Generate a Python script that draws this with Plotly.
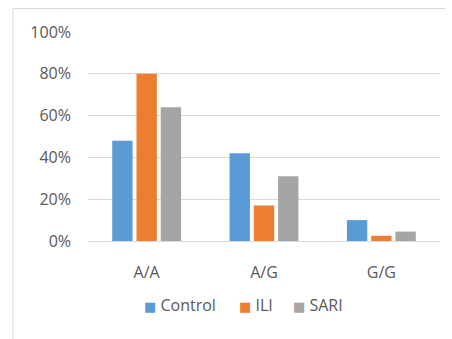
import plotly.graph_objects as go

categories = ["A/A", "A/G", "G/G"]
series_names = ["Control", "ILI", "SARI"]
control = [0.48, 0.42, 0.10]
ili = [0.80, 0.17, 0.025]
sari = [0.64, 0.31, 0.045]
colors = ["#5B9BD5", "#ED7D31", "#A5A5A5"]
y_ticks = [0, 0.2, 0.4, 0.6, 0.8, 1.0]
y_tick_labels = ["0%", "20%", "40%", "60%", "80%", "100%"]

W, H = 452, 339
L, R, T, B = 88, 12, 31.5, 98
FONT = "Open Sans"

fig = go.Figure()
for name, vals, col in zip(series_names, [control, ili, sari], colors):
    fig.add_trace(go.Bar(x=categories, y=vals, name=name, showlegend=False,
                         marker=dict(color=col, line=dict(width=0))))

pw = W - L - R
ph = H - T - B
def px_x(p):
    return (p - L) / pw
def px_y(p):
    return (H - B - p) / ph

legend_x = [142, 237, 291]
annotations = []
for name, col, lx in zip(series_names, colors, legend_x):
    annotations.append(dict(
        xref="paper", yref="paper", x=px_x(lx), y=px_y(305),
        xanchor="left", yanchor="middle", showarrow=False,
        text=f"<span style='color:{col}; font-family:DejaVu Sans; font-size:13px'>■</span> {name}",
        font=dict(family=FONT, size=16, color="#595959"),
    ))

fig.update_layout(
    width=W, height=H,
    margin=dict(l=L, r=R, t=T, b=B, pad=0),
    paper_bgcolor="white", plot_bgcolor="white",
    barmode="group", bargap=0.38, bargroupgap=0.16,
    font=dict(family=FONT, size=16, color="#595959"),
    showlegend=False,
    annotations=annotations,
    xaxis=dict(showgrid=False, showline=True, linecolor="#D9D9D9", linewidth=1,
               ticks="", tickfont=dict(size=16, color="#595959"), ticklabelstandoff=17),
    yaxis=dict(range=[0, 1], tickvals=y_ticks, ticktext=y_tick_labels,
               showgrid=True, gridcolor="#D9D9D9", gridwidth=1, zeroline=False,
               showline=False, ticks="", ticklabelstandoff=16,
               tickfont=dict(size=16, color="#595959")),
    shapes=[dict(type="path", xref="paper", yref="paper",
                 path=f"M {px_x(13)} {px_y(345)} L {px_x(13)} {px_y(8)} L {px_x(445)} {px_y(8)}",
                 line=dict(color="#D9D9D9", width=1))],
)

fig.write_html("out.html", config={"displayModeBar": False},
               post_script="document.body.style.margin='0';")
